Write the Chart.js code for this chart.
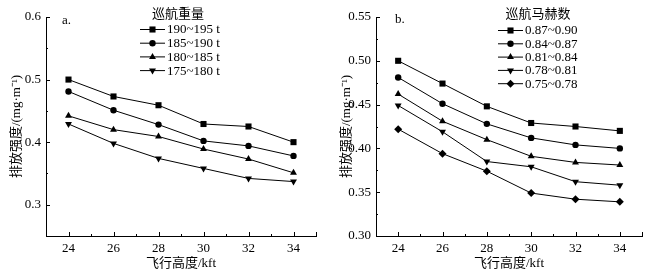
<!DOCTYPE html>
<html>
<head>
<meta charset="utf-8">
<script src="https://cdn.jsdelivr.net/npm/chart.js@4.4.1/dist/chart.umd.min.js"></script>
<style>
body { margin: 0; background: #fff; width: 654px; height: 279px; overflow: hidden; }
.box { position: absolute; top: 0; height: 279px; }
</style>
</head>
<body>
<div class="box" style="left:0;width:330px"><canvas id="chartA"></canvas></div>
<div class="box" style="left:330px;width:324px"><canvas id="chartB"></canvas></div>
<script>
// data
const altitudes = [24, 26, 28, 30, 32, 34];

const weightLabels = ['190~195 t', '185~190 t', '180~185 t', '175~180 t'];
const w190 = [0.500, 0.473, 0.459, 0.429, 0.425, 0.400];
const w185 = [0.481, 0.451, 0.428, 0.402, 0.394, 0.378];
const w180 = [0.442, 0.420, 0.409, 0.389, 0.373, 0.351];
const w175 = [0.429, 0.398, 0.374, 0.358, 0.342, 0.337];

const machLabels = ['0.87~0.90', '0.84~0.87', '0.81~0.84', '0.78~0.81', '0.75~0.78'];
const m087 = [0.500, 0.474, 0.448, 0.429, 0.425, 0.420];
const m084 = [0.481, 0.451, 0.428, 0.412, 0.404, 0.400];
const m081 = [0.462, 0.431, 0.410, 0.391, 0.384, 0.381];
const m078 = [0.449, 0.419, 0.385, 0.379, 0.362, 0.358];
const m075 = [0.422, 0.394, 0.374, 0.349, 0.342, 0.339];

const yTicksA = [0.3, 0.4, 0.5, 0.6];
const yTicksB = [0.30, 0.35, 0.40, 0.45, 0.50, 0.55];

const FONT = "'Liberation Serif', 'Noto Sans CJK SC', serif";

const markers = [
    { pointStyle: 'rect', pointRadius: 4.3, pointRotation: 0 },
    { pointStyle: 'circle', pointRadius: 3.2, pointRotation: 0 },
    { pointStyle: 'triangle', pointRadius: 4, pointRotation: 0 },
    { pointStyle: 'triangle', pointRadius: 4, pointRotation: 180 },
    { pointStyle: 'rectRot', pointRadius: 4, pointRotation: 0 },
];

function makeDatasets(labels, series) {
    return series.map((vals, i) => ({
        label: labels[i],
        data: altitudes.map((x, j) => ({ x: x, y: vals[j] })),
        borderColor: '#000',
        backgroundColor: '#000',
        borderWidth: 1,
        pointBorderWidth: 0,
        ...markers[i]
    }));
}

// ticks drawn inside the axes, like the original
const inwardTicks = {
    id: 'inwardTicks',
    afterDraw(chart, args, opts) {
        const ctx = chart.ctx;
        const xs = chart.scales.x, ys = chart.scales.y;
        ctx.save();
        ctx.strokeStyle = '#000';
        ctx.lineWidth = 1;
        ctx.beginPath();
        const xt = (v, len) => {
            const px = Math.round(xs.getPixelForValue(v)) + 0.5;
            ctx.moveTo(px, ys.bottom);
            ctx.lineTo(px, ys.bottom - len);
        };
        const yt = (v, len) => {
            const py = Math.round(ys.getPixelForValue(v)) + 0.5;
            ctx.moveTo(xs.left, py);
            ctx.lineTo(xs.left + len, py);
        };
        opts.xMajor.forEach(v => xt(v, 4));
        opts.xMinor.forEach(v => xt(v, 2));
        opts.yMajor.forEach(v => yt(v, 4));
        opts.yMinor.forEach(v => yt(v, 2));
        ctx.stroke();
        ctx.restore();
    }
};

// legend: line with marker in the middle, title above
const lineLegend = {
    id: 'lineLegend',
    afterDraw(chart, args, opts) {
        const ctx = chart.ctx;
        ctx.save();
        ctx.fillStyle = '#000';
        ctx.font = '13px ' + FONT;
        ctx.textBaseline = 'middle';
        ctx.textAlign = 'left';
        ctx.fillText(opts.tag, opts.tagX, opts.tagY);
        ctx.textAlign = 'center';
        ctx.fillText(opts.title, opts.titleX, opts.titleY);
        ctx.textAlign = 'left';
        chart.data.datasets.forEach((ds, i) => {
            const y = opts.y + i * opts.step;
            ctx.strokeStyle = '#000';
            ctx.lineWidth = 1;
            ctx.beginPath();
            ctx.moveTo(opts.x, y + 0.5);
            ctx.lineTo(opts.x + 25, y + 0.5);
            ctx.stroke();
            ctx.fillStyle = '#000';
            Chart.helpers.drawPoint(ctx, {
                pointStyle: ds.pointStyle,
                rotation: ds.pointRotation,
                radius: ds.pointRadius,
                borderWidth: 0
            }, opts.x + 12.5, y + 0.5);
            ctx.fillText(ds.label, opts.x + 27, y + 1);
        });
        ctx.restore();
    }
};

function makeChart(id, datasets, yMin, yMax, yTicks, yDigits, yMinor, legendOpts, rightPad) {
    return new Chart(document.getElementById(id), {
        type: 'line',
        data: { datasets: datasets },
        options: {
            responsive: true,
            maintainAspectRatio: false,
            animation: false,
            layout: { padding: { top: 17, right: rightPad, bottom: 0, left: 0 } },
            plugins: {
                legend: { display: false },
                tooltip: { enabled: false },
                inwardTicks: {
                    xMajor: [24, 26, 28, 30, 32, 34, 35],
                    xMinor: [25, 27, 29, 31, 33],
                    yMajor: yTicks,
                    yMinor: yMinor
                },
                lineLegend: legendOpts
            },
            scales: {
                x: {
                    type: 'linear',
                    min: 23,
                    max: 35,
                    afterBuildTicks: s => { s.ticks = altitudes.map(v => ({ value: v })); },
                    afterFit: s => { s.height = 43; },
                    grid: { display: false, drawTicks: false },
                    border: { display: true, color: '#000', width: 1 },
                    ticks: { color: '#000', font: { family: FONT, size: 13 }, padding: 5, maxRotation: 0 },
                    title: { display: true, text: '飞行高度/kft', color: '#000', font: { family: FONT, size: 13 }, padding: { top: 0, bottom: 8 } }
                },
                y: {
                    min: yMin,
                    max: yMax,
                    afterBuildTicks: s => { s.ticks = yTicks.map(v => ({ value: v })); },
                    afterFit: s => { s.width = 46; },
                    grid: { display: false, drawTicks: false },
                    border: { display: true, color: '#000', width: 1 },
                    ticks: { color: '#000', font: { family: FONT, size: 13 }, padding: 5, callback: v => v.toFixed(yDigits) },
                    title: { display: true, text: '排放强度/(mg·m⁻¹)', color: '#000', font: { family: FONT, size: 13 }, padding: { top: 9, bottom: 0 } }
                }
            }
        },
        plugins: [inwardTicks, lineLegend]
    });
}

makeChart('chartA', makeDatasets(weightLabels, [w190, w185, w180, w175]),
    0.25, 0.6, yTicksA, 1, [0.35, 0.45, 0.55],
    { tag: 'a.', tagX: 62, tagY: 21, title: '巡航重量', titleX: 178, titleY: 15, x: 140, y: 29, step: 13.7 }, 14);

makeChart('chartB', makeDatasets(machLabels, [m087, m084, m081, m078, m075]),
    0.30, 0.55, yTicksB, 2, [0.325, 0.375, 0.425, 0.475, 0.525],
    { tag: 'b.', tagX: 65, tagY: 20, title: '巡航马赫数', titleX: 208, titleY: 15, x: 168, y: 30, step: 13.3 }, 12);
</script>
</body>
</html>
